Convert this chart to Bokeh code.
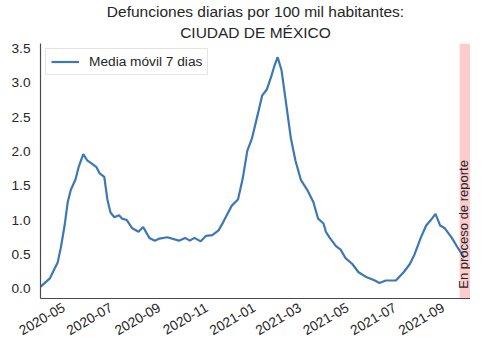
import math
import pandas as pd
from bokeh.plotting import figure
from bokeh.models import (Range1d, FixedTicker, DatetimeTickFormatter, Legend, LegendItem,
                          BoxAnnotation, Title, ColumnDataSource, NumeralTickFormatter)
from bokeh.core.properties import value
from bokeh.embed import file_html
from bokeh.resources import INLINE

# ---- data ----
dates = ["2020-04-01", "2020-04-03", "2020-04-13", "2020-04-19", "2020-04-23", "2020-04-27",
         "2020-05-02", "2020-05-06", "2020-05-10", "2020-05-16", "2020-05-20", "2020-05-26",
         "2020-05-31", "2020-06-06", "2020-06-12", "2020-06-16", "2020-06-22", "2020-06-26",
         "2020-06-30", "2020-07-05", "2020-07-11", "2020-07-15", "2020-07-21", "2020-07-28",
         "2020-08-05", "2020-08-11", "2020-08-19", "2020-08-26", "2020-09-01", "2020-09-11",
         "2020-09-26", "2020-10-04", "2020-10-10", "2020-10-16", "2020-10-24", "2020-10-31",
         "2020-11-08", "2020-11-16", "2020-11-22", "2020-12-03", "2020-12-11", "2020-12-17",
         "2020-12-23", "2020-12-29", "2021-01-05", "2021-01-11", "2021-01-17", "2021-01-23",
         "2021-01-27", "2021-01-31", "2021-02-05", "2021-02-09", "2021-02-13", "2021-02-17",
         "2021-02-23", "2021-03-02", "2021-03-10", "2021-03-18", "2021-03-24", "2021-03-31",
         "2021-04-03", "2021-04-08", "2021-04-16", "2021-04-22", "2021-04-28", "2021-05-07",
         "2021-05-15", "2021-05-25", "2021-06-05", "2021-06-11", "2021-06-19", "2021-07-02",
         "2021-07-12", "2021-07-20", "2021-07-26", "2021-08-03", "2021-08-10", "2021-08-16",
         "2021-08-22", "2021-08-28", "2021-09-03", "2021-09-12", "2021-09-20", "2021-09-28"]
media_movil = [0.03, 0.05, 0.15, 0.29, 0.38, 0.59, 0.92, 1.26, 1.44, 1.59, 1.77, 1.96,
               1.87, 1.82, 1.77, 1.68, 1.63, 1.30, 1.11, 1.04, 1.07, 1.02, 1.00, 0.88,
               0.83, 0.90, 0.74, 0.70, 0.73, 0.75, 0.70, 0.74, 0.70, 0.74, 0.69, 0.77,
               0.78, 0.85, 0.97, 1.21, 1.30, 1.60, 2.01, 2.19, 2.52, 2.81, 2.90, 3.10,
               3.25, 3.37, 3.18, 2.85, 2.52, 2.19, 1.86, 1.58, 1.44, 1.26, 1.02, 0.95,
               0.83, 0.74, 0.62, 0.57, 0.45, 0.36, 0.24, 0.17, 0.12, 0.085, 0.12, 0.12,
               0.24, 0.36, 0.50, 0.74, 0.92, 1.00, 1.09, 0.92, 0.88, 0.74, 0.59, 0.45]
x_tick_labels = ["2020-05", "2020-07", "2020-09", "2020-11", "2021-01",
                 "2021-03", "2021-05", "2021-07", "2021-09"]
y_ticks = [0.0, 0.5, 1.0, 1.5, 2.0, 2.5, 3.0, 3.5]
x_start = "2020-04-01"
band_start = "2021-09-22"
band_end = "2021-10-06"
band_label = "En proceso de reporte"
band_label_y = 0.0
series_label = "Media móvil 7 dias"
title_line1 = "Defunciones diarias por 100 mil habitantes:"
title_line2 = "CIUDAD DE MÉXICO"

FONT = "Liberation Sans"
TXT = "#262626"


def ms(s):
    return pd.Timestamp(s).value / 1e6


src = ColumnDataSource(dict(x=pd.to_datetime(dates), y=media_movil))

p = figure(width=470, height=342, x_axis_type="datetime",
           x_range=Range1d(ms(x_start), ms(band_end)),
           y_range=Range1d(-0.142, 3.57),
           output_backend="svg", toolbar_location=None,
           min_border_left=40, min_border_right=0, min_border_top=0, min_border_bottom=0,
           background_fill_color="white", border_fill_color="white")
p.outline_line_color = None
p.xgrid.visible = False
p.ygrid.visible = False
p.title.visible = False

# titles (the later one added sits further from the plot)
p.add_layout(Title(text=title_line2, align="center", text_font=FONT, text_font_size="15.5px",
                   text_font_style="normal", text_color=TXT, text_line_height=1.0,
                   standoff=5, offset=0), "above")
p.add_layout(Title(text=title_line1, align="center", text_font=FONT, text_font_size="15.5px",
                   text_font_style="normal", text_color=TXT, text_line_height=1.0,
                   standoff=0, offset=0), "above")

band = BoxAnnotation(left=ms(band_start), right=ms(band_end), fill_color="#ff0000",
                     fill_alpha=0.2, line_color=None, level="underlay")
p.add_layout(band)

line = p.line("x", "y", source=src, line_color="#3b78b5", line_width=2.2)

p.text(x=[ms(band_end)], y=[band_label_y], text=[band_label], angle=math.pi / 2,
       text_align="left", text_baseline="bottom", text_font=value(FONT),
       text_font_size="13px", text_color=TXT, y_offset=0)

legend = Legend(items=[LegendItem(label=series_label, renderers=[line])],
                location="top_left", margin=5, padding=5,
                label_text_font=FONT, label_text_font_size="13.7px", label_text_color=TXT,
                border_line_color="#cccccc", border_line_width=1,
                background_fill_color="white", background_fill_alpha=0.8,
                glyph_width=28, glyph_height=15, label_standoff=10, label_height=15)
p.add_layout(legend)

# axes
tick_ms = [ms(t + "-01") for t in x_tick_labels]
p.xaxis.ticker = FixedTicker(ticks=tick_ms)
p.xaxis.formatter = DatetimeTickFormatter(months="%Y-%m", days="%Y-%m", years="%Y-%m")
p.xaxis.major_label_orientation = math.pi / 6
p.yaxis.ticker = FixedTicker(ticks=y_ticks)
p.yaxis.formatter = NumeralTickFormatter(format="0.0")

for ax in (p.xaxis, p.yaxis):
    ax.axis_line_color = "#4a4a4a"
    ax.axis_line_width = 1.2
    ax.major_tick_line_color = None
    ax.minor_tick_line_color = None
    ax.major_tick_out = 0
    ax.major_tick_in = 0
    ax.minor_tick_out = 0
    ax.minor_tick_in = 0
    ax.major_label_text_font = FONT
    ax.major_label_text_font_size = "13.7px"
    ax.major_label_text_color = TXT
p.yaxis.major_label_standoff = 10
p.xaxis.major_label_standoff = 8

open("out.html", "w").write(file_html(p, INLINE))
